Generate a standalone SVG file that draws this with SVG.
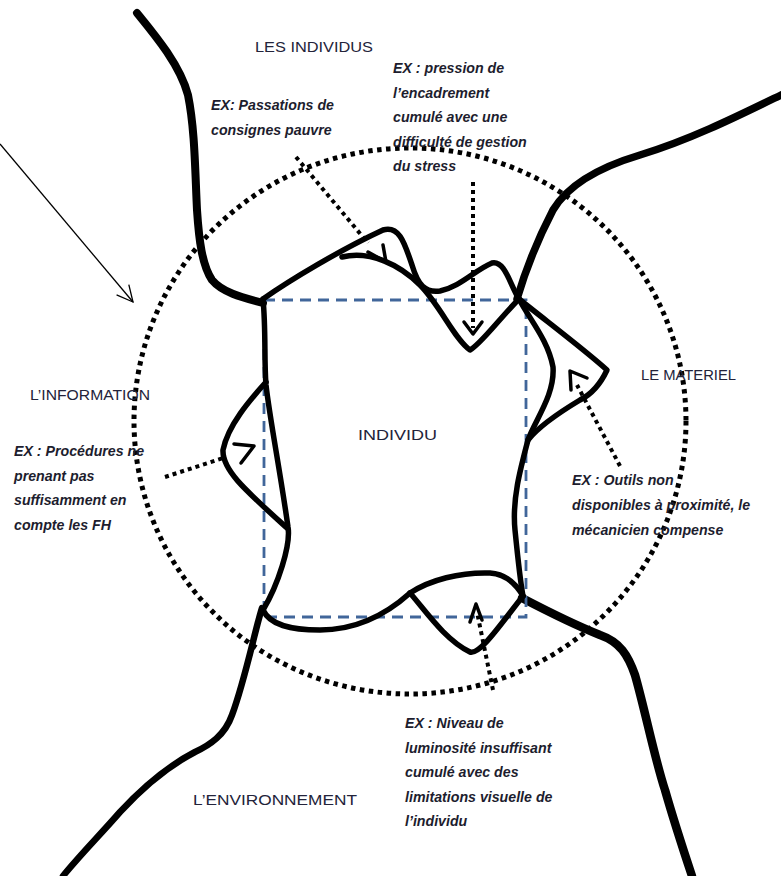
<svg xmlns="http://www.w3.org/2000/svg" width="781" height="876" viewBox="0 0 781 876">
<defs>
<style>
.lbl{font-family:"Liberation Sans",Arial,sans-serif;font-size:15.5px;fill:#23233a}
.ex{font-family:"Liberation Sans",Arial,sans-serif;font-size:14.2px;font-weight:bold;font-style:italic;fill:#1d1d2e}
.thick{fill:none;stroke:#000;stroke-linecap:round;stroke-linejoin:round}
.blob{fill:none;stroke:#000;stroke-width:5.5;stroke-linecap:round;stroke-linejoin:round}
.dots{fill:none;stroke:#000;stroke-width:4;stroke-dasharray:4 4}
.head{fill:none;stroke:#000;stroke-width:3.5;stroke-linecap:round;stroke-linejoin:round}
</style>
<marker id="openArrow" viewBox="0 0 20 20" refX="18" refY="10" markerWidth="20" markerHeight="20" markerUnits="userSpaceOnUse" orient="auto">
<path d="M2,2 L18,10 L2,18" fill="none" stroke="#000" stroke-width="1.3"/>
</marker>
</defs>
<rect width="781" height="876" fill="#fff"/>

<g id="outer-lines">
<path class="thick" stroke-width="8" d="M137,13 C155,35 180,65 188,95 C195,130 195,170 197,210 C199,240 202,265 212,280 C222,292 240,297 263,303"/>
<path class="thick" stroke-width="7.5" d="M517,299 C527,265 540,235 553,210 C565,190 590,170 640,155 C690,140 740,115 781,95"/>
<path class="thick" stroke-width="6.5" d="M262,608 C255,630 245,680 232,715 C225,735 210,745 195,752 C170,765 145,785 120,812 C100,835 80,855 63,876"/>
<path class="thick" stroke-width="8.5" d="M522,598 C545,610 575,625 600,635 C620,642 628,655 635,675 C645,710 655,760 665,790 C675,825 685,855 692,876"/>
</g>

<ellipse id="dotted-circle" cx="410" cy="421" rx="276" ry="273" fill="none" stroke="#000" stroke-width="5" stroke-dasharray="4.5 4.5"/>

<g id="individu">
<rect x="264" y="300" width="262" height="317" fill="none" stroke="#41669a" stroke-width="2.8" stroke-dasharray="11 7"/>
<path class="blob" d="M263,299 C290,280 340,250 383,230 C400,225 405,245 412,265 C418,285 425,293 440,291 C460,287 475,270 492,263 C505,260 510,285 519,299"/>
<path class="blob" d="M342,257 C370,250 400,265 420,285 C440,305 455,340 470,350 C480,345 500,318 519,299"/>
<path class="blob" d="M263,299 C266,330 264,360 266,385 C270,420 280,470 288,527 C291,545 278,585 263,610"/>
<path class="blob" d="M266,382 C250,400 228,425 223,450 C222,470 245,490 287,528"/>
<path class="blob" d="M263,610 C270,625 290,630 320,630 C350,630 380,620 410,593"/>
<path class="blob" d="M410,593 C430,580 460,572 490,573 C505,574 515,582 523,596"/>
<path class="blob" d="M410,593 C425,610 445,640 470,652 C480,655 500,625 523,596"/>
<path class="blob" d="M519,299 C530,320 548,340 553,367 C555,395 535,420 528,440 C520,470 512,500 515,530 C518,560 520,580 523,596"/>
<path class="blob" d="M519,299 C545,320 585,350 607,370 C600,385 590,395 580,400 C560,412 540,425 528,440"/>
<text class="lbl" x="358" y="440" textLength="79" lengthAdjust="spacingAndGlyphs">INDIVIDU</text>
</g>

<g id="connectors">
<line x1="0" y1="144" x2="133" y2="302" stroke="#000" stroke-width="1.3" marker-end="url(#openArrow)"/>
<path class="dots" d="M296,157 L368,243"/>
<path class="head" d="M368,252 L386,262 L383,245"/>
<path class="dots" d="M473,182 L473,328"/>
<path class="head" d="M464,322 L473,334 L482,322"/>
<path class="dots" d="M165,477 L226,457"/>
<path class="head" d="M234,444 L254,446 L241,463"/>
<path class="dots" d="M620,466 L577,385"/>
<path class="head" d="M571,390 L570,371 L587,378"/>
<path class="dots" d="M493,690 L477,612"/>
<path class="head" d="M470,622 L476,604 L482,620"/>
</g>

<g id="labels">
<text class="lbl" x="255" y="52" textLength="118" lengthAdjust="spacingAndGlyphs">LES INDIVIDUS</text>
<text class="lbl" x="30" y="400" textLength="120" lengthAdjust="spacingAndGlyphs">L’INFORMATION</text>
<text class="lbl" x="641" y="380" textLength="95" lengthAdjust="spacingAndGlyphs">LE MATERIEL</text>
<text class="lbl" x="193" y="805" textLength="164" lengthAdjust="spacingAndGlyphs">L’ENVIRONNEMENT</text>
</g>

<g id="examples">
<text class="ex" x="393" y="73">EX : pression de</text>
<text class="ex" x="393" y="98">l’encadrement</text>
<text class="ex" x="393" y="122">cumulé avec une</text>
<text class="ex" x="393" y="147">difficulté de gestion</text>
<text class="ex" x="393" y="171">du stress</text>
<text class="ex" x="211" y="110">EX: Passations de</text>
<text class="ex" x="211" y="135">consignes pauvre</text>
<text class="ex" x="14" y="456">EX : Procédures ne</text>
<text class="ex" x="14" y="481">prenant pas</text>
<text class="ex" x="14" y="505">suffisamment en</text>
<text class="ex" x="14" y="530">compte les FH</text>
<text class="ex" x="572" y="485">EX : Outils non</text>
<text class="ex" x="572" y="510">disponibles à proximité, le</text>
<text class="ex" x="572" y="535">mécanicien compense</text>
<text class="ex" x="405" y="728">EX : Niveau de</text>
<text class="ex" x="405" y="753">luminosité insuffisant</text>
<text class="ex" x="405" y="777">cumulé avec des</text>
<text class="ex" x="405" y="802">limitations visuelle de</text>
<text class="ex" x="405" y="826">l’individu</text>
</g>
</svg>
